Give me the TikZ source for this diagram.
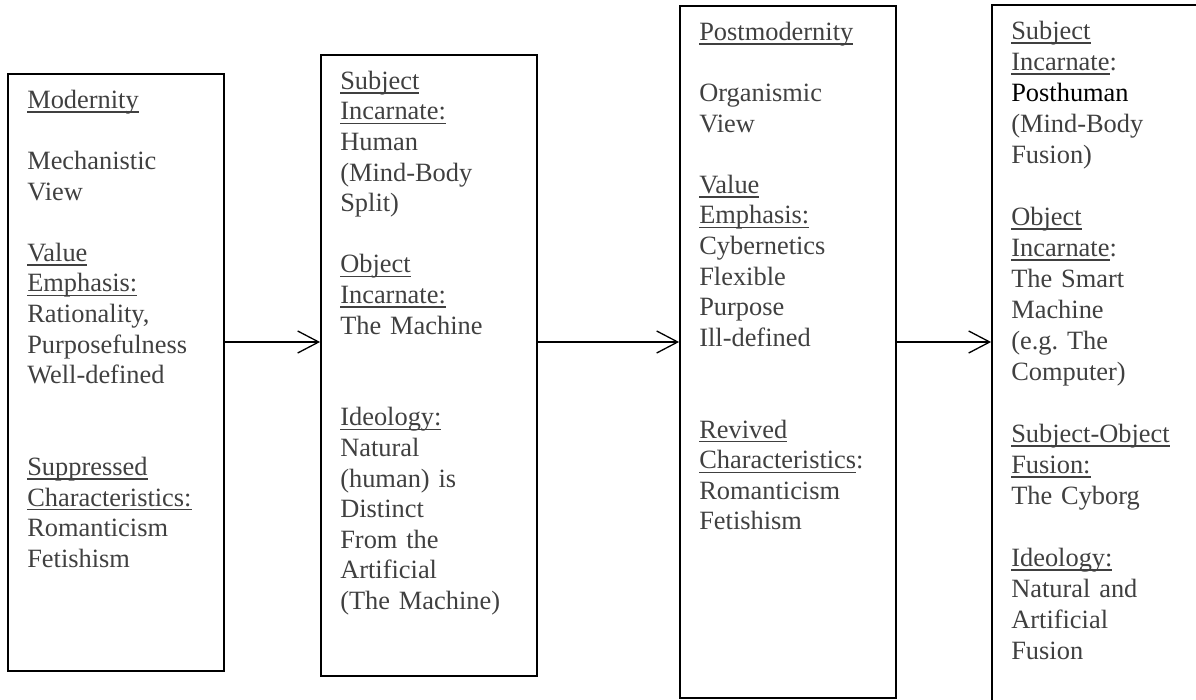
\documentclass[tikz,border=0pt]{standalone}
\usepackage{fontspec}
\setmainfont{Liberation Serif}
\usetikzlibrary{positioning,arrows.meta}

\definecolor{txtgray}{HTML}{404040}
\newcommand{\lnstrut}{\rule{0pt}{20pt}}
\newcommand{\uln}[1]{\leavevmode\setbox0\hbox{#1}\rlap{\rule[-4.3pt]{\wd0}{1.3pt}}\box0}

\tikzset{
  box/.style={draw, line width=1.8pt, minimum width=216pt, inner sep=0pt},
  boxtext/.style={below right=15pt and 20pt of #1.north west, inner sep=0pt, text width=194pt, align=left,
    font={\fontsize{26.4}{30.6}\selectfont\parindent=0pt}, text=txtgray},
  arr/.style={-{Straight Barb[length=21pt,width=22pt]}, line width=1.3pt}
}

\begin{document}
\begin{tikzpicture}[x=1pt,y=-1pt]
  \useasboundingbox (0,0) rectangle (1196,700);
  \clip (0,0) rectangle (1196,700);

  % Draw the four boxes
  \node[box, minimum height=597pt] (modern) at (116,372.5) {};
  \node[box, minimum height=621pt] (human) at (429,365.5) {};
  \node[box, minimum height=692pt] (postmodern) at (788,352) {};
  \node[box, minimum height=715pt] (posthuman) at (1100,362.5) {};

  % Fill in the boxes
  \node[boxtext=modern] (moderntext) {\lnstrut\uln{Modernity}\\[30.6pt]
    Mechanistic\\ View\\[30.6pt]
    \uln{Value}\\ \uln{Emphasis:}\\ Rationality,\\ Purposefulness\\ Well-defined\\[61.2pt]
    \uln{Suppressed}\\ \uln{Characteristics:}\\ Romanticism\\ Fetishism};

  \node[boxtext=human] (humantext) {\lnstrut\uln{Subject}\\ \uln{Incarnate:}\\ Human\\ (Mind-Body\\ Split)\\[30.6pt]
    \uln{Object}\\ \uln{Incarnate:}\\ The Machine\\[61.2pt]
    \uln{Ideology:}\\ Natural\\ (human) is\\ Distinct\\ From the\\ Artificial\\ (The Machine)};

  \node[boxtext=postmodern] (postmoderntext) {\lnstrut\uln{Postmodernity}\\[30.6pt]
    Organismic\\ View\\[30.6pt]
    \uln{Value}\\ \uln{Emphasis:}\\ Cybernetics\\ Flexible\\ Purpose\\ Ill-defined\\[61.2pt]
    \uln{Revived}\\ \uln{Characteristics}:\\ Romanticism\\ Fetishism};

  \node[boxtext=posthuman, font={\fontsize{26.4}{31}\selectfont\parindent=0pt}] (posthumantext) {\lnstrut\uln{Subject}\\ \uln{Incarnate}:\\ {\color{black}Posthuman}\\ (Mind-Body\\ Fusion)\\[31pt]
    \uln{Object}\\ \uln{Incarnate}:\\ The Smart\\ Machine\\ (e.g.\ The\\ Computer)\\[31pt]
    \uln{Subject-Object}\\ \uln{Fusion:}\\ The Cyborg\\[31pt]
    \uln{Ideology:}\\ Natural and\\ Artificial\\ Fusion};

  % Draw the arrows between the boxes
  \coordinate (arrowlevel) at (0,342);
  \draw[arr] (modern.east |- arrowlevel) -- (human.west |- arrowlevel);
  \draw[arr] (human.east |- arrowlevel) -- (postmodern.west |- arrowlevel);
  \draw[arr] (postmodern.east |- arrowlevel) -- (posthuman.west |- arrowlevel);

\end{tikzpicture}
\end{document}
